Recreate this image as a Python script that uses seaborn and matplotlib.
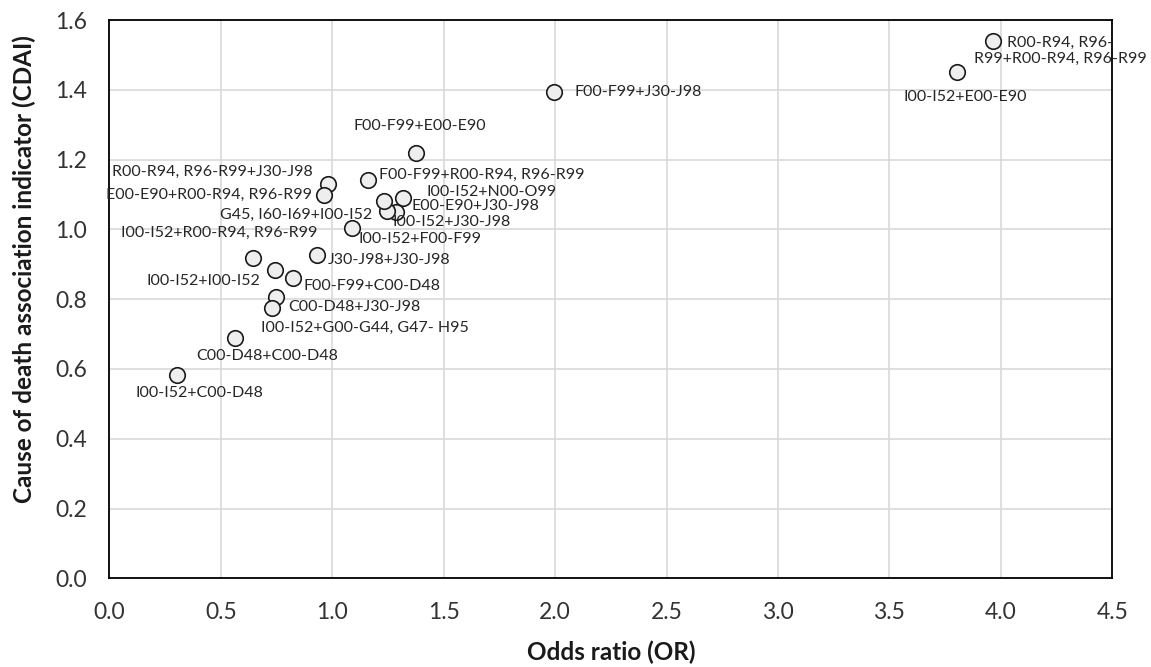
import numpy as np
import pandas as pd
import seaborn as sns
import matplotlib.pyplot as plt

# data
labels = ['R00-R94, R96-\nR99+R00-R94, R96-R99', 'I00-I52+E00-E90', 'F00-F99+J30-J98',
          'F00-F99+E00-E90', 'F00-F99+R00-R94, R96-R99', 'I00-I52+N00-O99',
          'E00-E90+J30-J98', 'I00-I52+J30-J98', 'G45, I60-I69+I00-I52',
          'R00-R94, R96-R99+J30-J98', 'E00-E90+R00-R94, R96-R99', 'I00-I52+F00-F99',
          'I00-I52+R00-R94, R96-R99', 'J30-J98+J30-J98', 'I00-I52+I00-I52',
          'F00-F99+C00-D48', 'C00-D48+J30-J98', 'I00-I52+G00-G44, G47- H95',
          'C00-D48+C00-D48', 'I00-I52+C00-D48']
odds_ratio = [3.965, 3.803, 1.993, 1.374, 1.161, 1.318, 1.288, 1.246, 1.233, 0.982,
              0.964, 1.087, 0.645, 0.932, 0.743, 0.822, 0.746, 0.729, 0.563, 0.305]
cdai = [1.540, 1.452, 1.394, 1.218, 1.141, 1.091, 1.050, 1.052, 1.081, 1.129,
        1.098, 1.003, 0.917, 0.926, 0.883, 0.860, 0.807, 0.775, 0.688, 0.583]

# label placement: alignment and offset in pixels (dx right, dy down)
lab_pos = [('center', 67, 10), ('center', 8, 25), ('left', 21, 0), ('center', 4, -27),
           ('left', 11, -5), ('left', 23, -6), ('left', 15, -6), ('left', 5, 11),
           ('right', -12, 14), ('right', -15, -12), ('right', -12, 0), ('left', 7, 11),
           ('center', -34, -25), ('left', 11, 5), ('right', -15, 11), ('left', 11, 8),
           ('left', 13, 10), ('left', -11, 20), ('center', 32, 18), ('center', 22, 18)]

df = pd.DataFrame({'OR': odds_ratio, 'CDAI': cdai, 'label': labels})

sns.set_style('white')
plt.rcParams['font.family'] = ['Lato', 'DejaVu Sans']

fig = plt.figure(figsize=(11.51, 6.67), dpi=100)
ax = fig.add_axes([0.095, 0.133, 0.8714, 0.837])

ax.grid(True, color='#d9d9d9', lw=1.2, zorder=0)
ax.set_axisbelow(True)
g = sns.scatterplot(data=df, x='OR', y='CDAI', ax=ax, s=125, color='#eeeeee',
                    edgecolor='#1a1a1a', linewidth=1.2, zorder=3)

for (lab, xv, yv), (ha, dx, dy) in zip(zip(labels, odds_ratio, cdai), lab_pos):
    ax.annotate(lab, (xv, yv), xytext=(dx * 0.72, -dy * 0.72), textcoords='offset points',
                ha=ha, va='center', fontsize=11.5, color='#262626', zorder=4,
                multialignment='center', linespacing=1.25, annotation_clip=False)

ax.set_xlim(0, 4.5)
ax.set_ylim(0, 1.6)
ax.set_xticks(np.arange(0, 4.51, 0.5))
ax.set_yticks(np.arange(0, 1.61, 0.2))
ax.xaxis.set_major_formatter(plt.FormatStrFormatter('%.1f'))
ax.yaxis.set_major_formatter(plt.FormatStrFormatter('%.1f'))
ax.tick_params(axis='both', length=0, labelsize=16.5, colors='#333333')
ax.tick_params(axis='x', pad=17)
ax.tick_params(axis='y', pad=16)
for sp in ax.spines.values():
    sp.set_visible(True)
    sp.set_color('black')
    sp.set_linewidth(1.3)

ax.set_xlabel('Odds ratio (OR)', fontsize=17.5, fontweight='bold', color='#1a1a1a')
ax.set_ylabel('Cause of death association indicator (CDAI)', fontsize=17.5,
              fontweight='bold', color='#1a1a1a')
ax.xaxis.set_label_coords(0.5, -0.112)
ax.yaxis.set_label_coords(-0.073, 0.554)

fig.savefig('out.png', dpi=100)
